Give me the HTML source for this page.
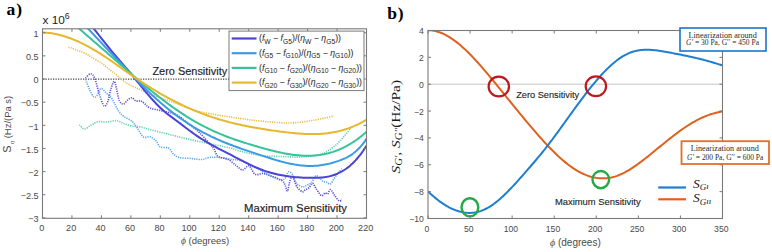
<!DOCTYPE html>
<html><head><meta charset="utf-8"><style>
html,body{margin:0;padding:0;background:#fff;}
body{width:772px;height:252px;overflow:hidden;font-family:"Liberation Sans",sans-serif;}
svg{display:block;}
</style></head><body>
<svg width="772" height="252" viewBox="0 0 772 252">
<rect width="772" height="252" fill="#fff"/>
<defs><clipPath id="cl"><rect x="42.5" y="28.8" width="324.0" height="189.5"/></clipPath><clipPath id="cr"><rect x="428" y="30.5" width="294.5" height="188"/></clipPath></defs>
<line x1="43" y1="79" x2="229" y2="79" stroke="#4a4a4a" stroke-width="1.25" stroke-dasharray="1.25 1.25"/>
<path d="M79.30,124.80 C80.15,125.50 82.52,128.88 84.40,129.00 C86.28,129.12 88.37,126.70 90.60,125.50 C92.83,124.30 95.07,122.38 97.80,121.80 C100.53,121.22 103.90,122.18 107.00,122.00 C110.10,121.82 113.63,120.47 116.40,120.70 C119.17,120.93 121.02,122.52 123.60,123.40 C126.18,124.28 128.98,125.40 131.90,126.00 C134.82,126.60 138.08,126.40 141.10,127.00 C144.12,127.60 146.45,128.65 150.00,129.60 C153.55,130.55 158.28,131.67 162.40,132.70 C166.52,133.73 170.58,134.77 174.70,135.80 C178.82,136.83 182.63,137.87 187.10,138.90 C191.57,139.93 196.68,140.98 201.50,142.00 C206.32,143.02 211.25,144.00 216.00,145.00 C220.75,146.00 225.90,146.95 230.00,148.00 C234.10,149.05 235.40,150.05 240.60,151.30 C245.80,152.55 254.32,154.63 261.20,155.50 C268.08,156.37 275.43,156.25 281.90,156.50 C288.37,156.75 293.65,157.32 300.00,157.00 C306.35,156.68 314.67,156.10 320.00,154.60 C325.33,153.10 328.67,150.27 332.00,148.00 C335.33,145.73 336.87,144.33 340.00,141.00 C343.13,137.67 349.00,130.17 350.80,128.00" fill="none" stroke="#62d2ad" stroke-width="1.6" stroke-dasharray="1.2 1.1" clip-path="url(#cl)"/>
<path d="M85.50,79.30 C86.18,81.02 88.23,86.68 89.60,89.60 C90.97,92.52 92.50,95.77 93.70,96.80 C94.90,97.83 95.60,97.17 96.80,95.80 C98.00,94.43 99.37,89.12 100.90,88.60 C102.43,88.08 104.28,91.17 106.00,92.70 C107.72,94.23 109.82,96.08 111.20,97.80 C112.58,99.52 113.08,100.80 114.30,103.00 C115.52,105.20 116.95,108.78 118.50,111.00 C120.05,113.22 121.37,114.58 123.60,116.30 C125.83,118.02 129.67,119.43 131.90,121.30 C134.13,123.17 135.12,124.92 137.00,127.50 C138.88,130.08 141.03,135.25 143.20,136.80 C145.37,138.35 147.83,136.10 150.00,136.80 C152.17,137.50 154.48,139.30 156.20,141.00 C157.92,142.70 158.23,145.83 160.30,147.00 C162.37,148.17 166.53,146.95 168.60,148.00 C170.67,149.05 170.98,151.73 172.70,153.30 C174.42,154.87 175.82,156.53 178.90,157.40 C181.98,158.27 187.43,158.15 191.20,158.50 C194.97,158.85 198.40,159.68 201.50,159.50 C204.60,159.32 206.72,157.73 209.80,157.40 C212.88,157.07 216.23,157.13 220.00,157.50 C223.77,157.87 228.97,159.08 232.40,159.60 C235.83,160.12 237.17,159.40 240.60,160.60 C244.03,161.80 250.07,165.45 253.00,166.80 C255.93,168.15 256.28,167.72 258.20,168.70 C260.12,169.68 262.12,171.37 264.50,172.70 C266.88,174.03 269.85,175.52 272.50,176.70 C275.15,177.88 278.28,179.53 280.40,179.80 C282.52,180.07 283.88,179.62 285.20,178.30 C286.52,176.98 287.12,172.57 288.30,171.90 C289.48,171.23 291.23,172.85 292.30,174.30 C293.37,175.75 293.77,178.88 294.70,180.60 C295.63,182.32 296.58,183.53 297.90,184.60 C299.22,185.67 301.35,186.78 302.60,187.00 C303.85,187.22 304.05,186.53 305.40,185.90 C306.75,185.27 309.37,184.25 310.70,183.20 C312.03,182.15 312.52,180.85 313.40,179.60 C314.28,178.35 314.97,175.98 316.00,175.70 C317.03,175.42 318.40,176.95 319.60,177.90 C320.80,178.85 322.00,180.67 323.20,181.40 C324.40,182.13 325.60,181.85 326.80,182.30 C328.00,182.75 329.20,184.69 330.40,184.10 C331.60,183.51 332.67,180.68 334.00,178.75 C335.33,176.82 337.07,174.14 338.40,172.50 C339.73,170.86 341.40,169.50 342.00,168.90" fill="none" stroke="#58a8ea" stroke-width="1.6" stroke-dasharray="1.2 1.1" clip-path="url(#cl)"/>
<path d="M85.50,78.00 C86.35,77.28 89.07,73.67 90.60,73.70 C92.13,73.73 93.32,75.03 94.70,78.20 C96.08,81.37 97.35,88.07 98.90,92.70 C100.45,97.33 102.48,104.62 104.00,106.00 C105.52,107.38 106.83,103.92 108.00,101.00 C109.17,98.08 109.95,91.78 111.00,88.50 C112.05,85.22 113.40,81.30 114.30,81.30 C115.20,81.30 115.53,85.22 116.40,88.50 C117.27,91.78 118.30,98.42 119.50,101.00 C120.70,103.58 122.23,104.17 123.60,104.00 C124.97,103.83 126.32,101.03 127.70,100.00 C129.08,98.97 130.52,97.63 131.90,97.80 C133.28,97.97 134.48,100.47 136.00,101.00 C137.52,101.53 139.50,100.50 141.00,101.00 C142.50,101.50 143.50,102.83 145.00,104.00 C146.50,105.17 147.10,106.83 150.00,108.00 C152.90,109.17 157.93,109.83 162.40,111.00 C166.87,112.17 172.33,112.77 176.80,115.00 C181.27,117.23 185.42,121.45 189.20,124.40 C192.98,127.35 196.07,129.43 199.50,132.70 C202.93,135.97 207.38,141.28 209.80,144.00 C212.22,146.72 212.63,146.93 214.00,149.00 C215.37,151.07 215.63,154.63 218.00,156.40 C220.37,158.17 225.12,158.03 228.20,159.60 C231.28,161.17 234.08,164.08 236.50,165.80 C238.92,167.52 240.63,169.90 242.70,169.90 C244.77,169.90 246.85,165.07 248.90,165.80 C250.95,166.53 252.65,173.02 255.00,174.30 C257.35,175.58 260.35,173.23 263.00,173.50 C265.65,173.77 267.73,174.72 270.90,175.90 C274.07,177.08 279.62,179.02 282.00,180.60 C284.38,182.18 284.28,183.67 285.20,185.40 C286.12,187.13 286.70,191.80 287.50,191.00 C288.30,190.20 289.08,182.85 290.00,180.60 C290.92,178.35 291.83,176.43 293.00,177.50 C294.17,178.57 295.40,184.63 297.00,187.00 C298.60,189.37 301.27,191.20 302.60,191.70 C303.93,192.20 303.93,190.67 305.00,190.00 C306.07,189.33 307.75,188.83 309.00,187.70 C310.25,186.57 311.33,183.05 312.50,183.20 C313.67,183.35 314.52,186.52 316.00,188.60 C317.48,190.68 319.90,194.97 321.40,195.70 C322.90,196.43 323.95,193.28 325.00,193.00 C326.05,192.72 326.80,194.58 327.70,194.00 C328.60,193.42 329.22,189.22 330.40,189.50 C331.58,189.78 333.32,193.78 334.80,195.70 C336.28,197.62 338.10,200.40 339.30,201.00 C340.50,201.60 341.55,199.58 342.00,199.30" fill="none" stroke="#5a50dc" stroke-width="1.6" stroke-dasharray="1.2 1.1" clip-path="url(#cl)"/>
<path d="M68.40,46.90 C70.12,47.55 75.78,49.65 78.70,50.80 C81.62,51.95 83.77,52.73 85.90,53.80 C88.03,54.87 88.87,55.62 91.50,57.20 C94.13,58.78 98.58,61.17 101.70,63.30 C104.82,65.43 107.60,67.97 110.20,70.00 C112.80,72.03 115.07,73.67 117.30,75.50 C119.53,77.33 121.48,79.42 123.60,81.00 C125.72,82.58 127.27,83.58 130.00,85.00 C132.73,86.42 136.67,88.00 140.00,89.50 C143.33,91.00 144.17,91.75 150.00,94.00 C155.83,96.25 166.67,100.05 175.00,103.00 C183.33,105.95 189.17,109.13 200.00,111.70 C210.83,114.27 230.00,116.85 240.00,118.40 C250.00,119.95 251.67,120.23 260.00,121.00 C268.33,121.77 280.83,123.17 290.00,123.00 C299.17,122.83 307.67,121.17 315.00,120.00 C322.33,118.83 330.83,116.67 334.00,116.00" fill="none" stroke="#e8be48" stroke-width="1.6" stroke-dasharray="1.2 1.1" clip-path="url(#cl)"/>
<path d="M78.00,10.49 L79.50,12.04 L81.00,13.64 L82.50,15.28 L84.00,16.96 L85.50,18.67 L87.00,20.42 L88.50,22.21 L90.00,24.01 L91.50,25.85 L93.00,27.70 L94.50,29.57 L96.00,31.45 L97.50,33.35 L99.00,35.25 L100.50,37.15 L102.00,39.06 L103.50,40.96 L105.00,42.85 L106.50,44.74 L108.00,46.61 L109.50,48.46 L111.00,50.30 L112.50,52.11 L114.00,53.90 L115.50,55.67 L117.00,57.42 L118.50,59.15 L120.00,60.88 L121.50,62.61 L123.00,64.33 L124.50,66.06 L126.00,67.80 L127.50,69.55 L129.00,71.32 L130.50,73.12 L132.00,74.94 L133.50,76.78 L135.00,78.64 L136.50,80.50 L138.00,82.37 L139.50,84.23 L141.00,86.09 L142.50,87.93 L144.00,89.76 L145.50,91.57 L147.00,93.36 L148.50,95.13 L150.00,96.87 L151.50,98.57 L153.00,100.24 L154.50,101.88 L156.00,103.47 L157.50,105.01 L159.00,106.51 L160.50,107.95 L162.00,109.34 L163.50,110.68 L165.00,111.95 L166.50,113.18 L168.00,114.37 L169.50,115.53 L171.00,116.67 L172.50,117.79 L174.00,118.91 L175.50,120.02 L177.00,121.14 L178.50,122.27 L180.00,123.40 L181.50,124.54 L183.00,125.67 L184.50,126.81 L186.00,127.94 L187.50,129.06 L189.00,130.18 L190.50,131.28 L192.00,132.38 L193.50,133.46 L195.00,134.52 L196.50,135.57 L198.00,136.59 L199.50,137.59 L201.00,138.57 L202.50,139.52 L204.00,140.44 L205.50,141.35 L207.00,142.24 L208.50,143.10 L210.00,143.96 L211.50,144.79 L213.00,145.61 L214.50,146.42 L216.00,147.22 L217.50,148.01 L219.00,148.79 L220.50,149.57 L222.00,150.34 L223.50,151.10 L225.00,151.87 L226.50,152.64 L228.00,153.41 L229.50,154.18 L231.00,154.95 L232.50,155.73 L234.00,156.52 L235.50,157.30 L237.00,158.09 L238.50,158.87 L240.00,159.65 L241.50,160.43 L243.00,161.20 L244.50,161.96 L246.00,162.72 L247.50,163.46 L249.00,164.19 L250.50,164.91 L252.00,165.62 L253.50,166.31 L255.00,166.98 L256.50,167.63 L258.00,168.27 L259.50,168.88 L261.00,169.47 L262.50,170.03 L264.00,170.57 L265.50,171.09 L267.00,171.58 L268.50,172.05 L270.00,172.50 L271.50,172.92 L273.00,173.33 L274.50,173.71 L276.00,174.07 L277.50,174.41 L279.00,174.74 L280.50,175.04 L282.00,175.32 L283.50,175.59 L285.00,175.84 L286.50,176.07 L288.00,176.29 L289.50,176.49 L291.00,176.67 L292.50,176.84 L294.00,176.99 L295.50,177.13 L297.00,177.26 L298.50,177.37 L300.00,177.47 L301.50,177.56 L303.00,177.63 L304.50,177.70 L306.00,177.75 L307.50,177.79 L309.00,177.82 L310.50,177.85 L312.00,177.86 L313.50,177.86 L315.00,177.84 L316.50,177.81 L318.00,177.75 L319.50,177.66 L321.00,177.55 L322.50,177.41 L324.00,177.23 L325.50,177.02 L327.00,176.77 L328.50,176.47 L330.00,176.13 L331.50,175.74 L333.00,175.30 L334.50,174.80 L336.00,174.25 L337.50,173.63 L339.00,172.95 L340.50,172.21 L342.00,171.39 L343.50,170.50 L345.00,169.54 L346.50,168.49 L348.00,167.37 L349.50,166.16 L351.00,164.86 L352.50,163.48 L354.00,162.00 L355.50,160.42 L357.00,158.74 L358.50,156.96 L360.00,155.08 L361.50,153.09 L363.00,150.98 L364.50,148.76 L366.00,146.43 L366.50,145.62" fill="none" stroke="#4b42d6" stroke-width="2.0" clip-path="url(#cl)"/>
<path d="M70.00,10.47 L71.50,11.88 L73.00,13.31 L74.50,14.76 L76.00,16.24 L77.50,17.73 L79.00,19.24 L80.50,20.76 L82.00,22.30 L83.50,23.85 L85.00,25.41 L86.50,26.99 L88.00,28.57 L89.50,30.16 L91.00,31.76 L92.50,33.36 L94.00,34.97 L95.50,36.58 L97.00,38.19 L98.50,39.80 L100.00,41.41 L101.50,43.02 L103.00,44.63 L104.50,46.23 L106.00,47.82 L107.50,49.41 L109.00,50.99 L110.50,52.56 L112.00,54.12 L113.50,55.67 L115.00,57.22 L116.50,58.76 L118.00,60.30 L119.50,61.84 L121.00,63.37 L122.50,64.91 L124.00,66.45 L125.50,67.99 L127.00,69.54 L128.50,71.10 L130.00,72.67 L131.50,74.24 L133.00,75.83 L134.50,77.42 L136.00,79.00 L137.50,80.58 L139.00,82.15 L140.50,83.70 L142.00,85.23 L143.50,86.74 L145.00,88.24 L146.50,89.71 L148.00,91.17 L149.50,92.61 L151.00,94.03 L152.50,95.44 L154.00,96.82 L155.50,98.19 L157.00,99.54 L158.50,100.87 L160.00,102.18 L161.50,103.48 L163.00,104.75 L164.50,106.01 L166.00,107.25 L167.50,108.48 L169.00,109.68 L170.50,110.87 L172.00,112.04 L173.50,113.20 L175.00,114.33 L176.50,115.45 L178.00,116.55 L179.50,117.63 L181.00,118.69 L182.50,119.74 L184.00,120.77 L185.50,121.78 L187.00,122.78 L188.50,123.75 L190.00,124.71 L191.50,125.66 L193.00,126.58 L194.50,127.49 L196.00,128.38 L197.50,129.25 L199.00,130.11 L200.50,130.95 L202.00,131.77 L203.50,132.57 L205.00,133.36 L206.50,134.14 L208.00,134.89 L209.50,135.64 L211.00,136.37 L212.50,137.08 L214.00,137.78 L215.50,138.47 L217.00,139.14 L218.50,139.81 L220.00,140.46 L221.50,141.10 L223.00,141.73 L224.50,142.34 L226.00,142.95 L227.50,143.55 L229.00,144.14 L230.50,144.72 L232.00,145.29 L233.50,145.86 L235.00,146.41 L236.50,146.96 L238.00,147.50 L239.50,148.04 L241.00,148.57 L242.50,149.09 L244.00,149.61 L245.50,150.13 L247.00,150.64 L248.50,151.15 L250.00,151.65 L251.50,152.15 L253.00,152.65 L254.50,153.15 L256.00,153.64 L257.50,154.14 L259.00,154.63 L260.50,155.12 L262.00,155.62 L263.50,156.11 L265.00,156.60 L266.50,157.08 L268.00,157.57 L269.50,158.05 L271.00,158.52 L272.50,158.98 L274.00,159.44 L275.50,159.89 L277.00,160.34 L278.50,160.77 L280.00,161.19 L281.50,161.60 L283.00,161.99 L284.50,162.38 L286.00,162.74 L287.50,163.10 L289.00,163.44 L290.50,163.76 L292.00,164.06 L293.50,164.34 L295.00,164.61 L296.50,164.85 L298.00,165.07 L299.50,165.27 L301.00,165.45 L302.50,165.60 L304.00,165.73 L305.50,165.83 L307.00,165.90 L308.50,165.95 L310.00,165.97 L311.50,165.96 L313.00,165.92 L314.50,165.85 L316.00,165.75 L317.50,165.63 L319.00,165.47 L320.50,165.29 L322.00,165.08 L323.50,164.84 L325.00,164.57 L326.50,164.27 L328.00,163.95 L329.50,163.60 L331.00,163.22 L332.50,162.81 L334.00,162.37 L335.50,161.91 L337.00,161.42 L338.50,160.91 L340.00,160.36 L341.50,159.79 L343.00,159.19 L344.50,158.54 L346.00,157.83 L347.50,157.07 L349.00,156.24 L350.50,155.33 L352.00,154.34 L353.50,153.25 L355.00,152.07 L356.50,150.77 L358.00,149.35 L359.50,147.80 L361.00,146.12 L362.50,144.30 L364.00,142.32 L365.50,140.18 L366.50,138.66" fill="none" stroke="#3a9be6" stroke-width="2.0" clip-path="url(#cl)"/>
<path d="M60.00,11.08 L61.50,12.50 L63.00,13.91 L64.50,15.31 L66.00,16.70 L67.50,18.08 L69.00,19.46 L70.50,20.83 L72.00,22.18 L73.50,23.54 L75.00,24.88 L76.50,26.22 L78.00,27.55 L79.50,28.88 L81.00,30.20 L82.50,31.52 L84.00,32.83 L85.50,34.14 L87.00,35.45 L88.50,36.76 L90.00,38.06 L91.50,39.36 L93.00,40.66 L94.50,41.95 L96.00,43.25 L97.50,44.55 L99.00,45.85 L100.50,47.14 L102.00,48.44 L103.50,49.74 L105.00,51.05 L106.50,52.35 L108.00,53.66 L109.50,54.97 L111.00,56.28 L112.50,57.60 L114.00,58.91 L115.50,60.23 L117.00,61.54 L118.50,62.86 L120.00,64.18 L121.50,65.49 L123.00,66.81 L124.50,68.12 L126.00,69.43 L127.50,70.74 L129.00,72.04 L130.50,73.34 L132.00,74.64 L133.50,75.93 L135.00,77.22 L136.50,78.50 L138.00,79.78 L139.50,81.05 L141.00,82.32 L142.50,83.58 L144.00,84.83 L145.50,86.08 L147.00,87.31 L148.50,88.54 L150.00,89.77 L151.50,90.98 L153.00,92.19 L154.50,93.38 L156.00,94.57 L157.50,95.75 L159.00,96.92 L160.50,98.08 L162.00,99.23 L163.50,100.37 L165.00,101.50 L166.50,102.62 L168.00,103.73 L169.50,104.82 L171.00,105.91 L172.50,106.98 L174.00,108.05 L175.50,109.10 L177.00,110.14 L178.50,111.16 L180.00,112.18 L181.50,113.18 L183.00,114.16 L184.50,115.14 L186.00,116.10 L187.50,117.04 L189.00,117.97 L190.50,118.89 L192.00,119.79 L193.50,120.68 L195.00,121.55 L196.50,122.41 L198.00,123.25 L199.50,124.07 L201.00,124.88 L202.50,125.68 L204.00,126.45 L205.50,127.21 L207.00,127.96 L208.50,128.69 L210.00,129.41 L211.50,130.11 L213.00,130.80 L214.50,131.48 L216.00,132.14 L217.50,132.79 L219.00,133.43 L220.50,134.06 L222.00,134.67 L223.50,135.28 L225.00,135.87 L226.50,136.45 L228.00,137.02 L229.50,137.58 L231.00,138.13 L232.50,138.67 L234.00,139.21 L235.50,139.73 L237.00,140.24 L238.50,140.75 L240.00,141.25 L241.50,141.74 L243.00,142.23 L244.50,142.70 L246.00,143.17 L247.50,143.64 L249.00,144.10 L250.50,144.55 L252.00,145.00 L253.50,145.44 L255.00,145.88 L256.50,146.32 L258.00,146.75 L259.50,147.18 L261.00,147.60 L262.50,148.02 L264.00,148.44 L265.50,148.85 L267.00,149.26 L268.50,149.66 L270.00,150.05 L271.50,150.44 L273.00,150.81 L274.50,151.18 L276.00,151.54 L277.50,151.89 L279.00,152.23 L280.50,152.56 L282.00,152.87 L283.50,153.18 L285.00,153.47 L286.50,153.74 L288.00,154.00 L289.50,154.25 L291.00,154.48 L292.50,154.69 L294.00,154.89 L295.50,155.06 L297.00,155.22 L298.50,155.36 L300.00,155.48 L301.50,155.58 L303.00,155.66 L304.50,155.72 L306.00,155.75 L307.50,155.76 L309.00,155.75 L310.50,155.71 L312.00,155.65 L313.50,155.56 L315.00,155.45 L316.50,155.31 L318.00,155.14 L319.50,154.95 L321.00,154.72 L322.50,154.47 L324.00,154.19 L325.50,153.87 L327.00,153.53 L328.50,153.16 L330.00,152.75 L331.50,152.32 L333.00,151.85 L334.50,151.34 L336.00,150.81 L337.50,150.24 L339.00,149.63 L340.50,148.99 L342.00,148.31 L343.50,147.60 L345.00,146.85 L346.50,146.06 L348.00,145.23 L349.50,144.37 L351.00,143.47 L352.50,142.52 L354.00,141.54 L355.50,140.52 L357.00,139.45 L358.50,138.34 L360.00,137.19 L361.50,136.00 L363.00,134.77 L364.50,133.49 L366.00,132.16 L366.50,131.71" fill="none" stroke="#35c49a" stroke-width="2.0" clip-path="url(#cl)"/>
<path d="M42.50,32.50 L44.00,32.55 L45.50,32.64 L47.00,32.75 L48.50,32.90 L50.00,33.08 L51.50,33.29 L53.00,33.53 L54.50,33.80 L56.00,34.10 L57.50,34.42 L59.00,34.78 L60.50,35.16 L62.00,35.57 L63.50,36.00 L65.00,36.46 L66.50,36.95 L68.00,37.46 L69.50,38.00 L71.00,38.56 L72.50,39.14 L74.00,39.75 L75.50,40.38 L77.00,41.03 L78.50,41.70 L80.00,42.40 L81.50,43.11 L83.00,43.85 L84.50,44.61 L86.00,45.38 L87.50,46.18 L89.00,46.99 L90.50,47.82 L92.00,48.67 L93.50,49.54 L95.00,50.42 L96.50,51.32 L98.00,52.23 L99.50,53.16 L101.00,54.11 L102.50,55.07 L104.00,56.04 L105.50,57.03 L107.00,58.03 L108.50,59.04 L110.00,60.07 L111.50,61.10 L113.00,62.14 L114.50,63.20 L116.00,64.25 L117.50,65.31 L119.00,66.38 L120.50,67.45 L122.00,68.52 L123.50,69.58 L125.00,70.65 L126.50,71.71 L128.00,72.77 L129.50,73.82 L131.00,74.86 L132.50,75.90 L134.00,76.92 L135.50,77.94 L137.00,78.95 L138.50,79.95 L140.00,80.94 L141.50,81.93 L143.00,82.90 L144.50,83.87 L146.00,84.83 L147.50,85.78 L149.00,86.72 L150.50,87.65 L152.00,88.57 L153.50,89.48 L155.00,90.38 L156.50,91.28 L158.00,92.16 L159.50,93.04 L161.00,93.90 L162.50,94.76 L164.00,95.60 L165.50,96.44 L167.00,97.26 L168.50,98.08 L170.00,98.88 L171.50,99.68 L173.00,100.47 L174.50,101.24 L176.00,102.01 L177.50,102.76 L179.00,103.50 L180.50,104.24 L182.00,104.96 L183.50,105.67 L185.00,106.37 L186.50,107.06 L188.00,107.74 L189.50,108.41 L191.00,109.07 L192.50,109.72 L194.00,110.35 L195.50,110.98 L197.00,111.59 L198.50,112.19 L200.00,112.78 L201.50,113.36 L203.00,113.92 L204.50,114.48 L206.00,115.02 L207.50,115.55 L209.00,116.08 L210.50,116.59 L212.00,117.09 L213.50,117.58 L215.00,118.06 L216.50,118.53 L218.00,118.99 L219.50,119.44 L221.00,119.89 L222.50,120.32 L224.00,120.74 L225.50,121.16 L227.00,121.56 L228.50,121.96 L230.00,122.35 L231.50,122.73 L233.00,123.10 L234.50,123.46 L236.00,123.82 L237.50,124.17 L239.00,124.51 L240.50,124.84 L242.00,125.17 L243.50,125.48 L245.00,125.80 L246.50,126.10 L248.00,126.40 L249.50,126.69 L251.00,126.98 L252.50,127.26 L254.00,127.53 L255.50,127.80 L257.00,128.06 L258.50,128.32 L260.00,128.57 L261.50,128.82 L263.00,129.06 L264.50,129.30 L266.00,129.53 L267.50,129.76 L269.00,129.98 L270.50,130.20 L272.00,130.42 L273.50,130.63 L275.00,130.84 L276.50,131.05 L278.00,131.25 L279.50,131.45 L281.00,131.64 L282.50,131.83 L284.00,132.02 L285.50,132.20 L287.00,132.38 L288.50,132.56 L290.00,132.72 L291.50,132.88 L293.00,133.04 L294.50,133.18 L296.00,133.32 L297.50,133.44 L299.00,133.56 L300.50,133.67 L302.00,133.77 L303.50,133.85 L305.00,133.92 L306.50,133.99 L308.00,134.03 L309.50,134.07 L311.00,134.09 L312.50,134.09 L314.00,134.08 L315.50,134.06 L317.00,134.02 L318.50,133.96 L320.00,133.88 L321.50,133.79 L323.00,133.67 L324.50,133.54 L326.00,133.39 L327.50,133.21 L329.00,133.02 L330.50,132.80 L332.00,132.56 L333.50,132.30 L335.00,132.02 L336.50,131.71 L338.00,131.38 L339.50,131.02 L341.00,130.64 L342.50,130.23 L344.00,129.79 L345.50,129.33 L347.00,128.84 L348.50,128.32 L350.00,127.77 L351.50,127.19 L353.00,126.58 L354.50,125.94 L356.00,125.27 L357.50,124.57 L359.00,123.84 L360.50,123.07 L362.00,122.27 L363.50,121.43 L365.00,120.56 L366.50,119.65" fill="none" stroke="#e6b82e" stroke-width="2.0" clip-path="url(#cl)"/>
<rect x="42.5" y="28.8" width="324.0" height="189.5" fill="none" stroke="#7a7a7a" stroke-width="1.1"/>
<path d="M42.50,218.3v-3M42.50,28.8v3M71.95,218.3v-3M71.95,28.8v3M101.41,218.3v-3M101.41,28.8v3M130.86,218.3v-3M130.86,28.8v3M160.32,218.3v-3M160.32,28.8v3M189.77,218.3v-3M189.77,28.8v3M219.22,218.3v-3M219.22,28.8v3M248.68,218.3v-3M248.68,28.8v3M278.13,218.3v-3M278.13,28.8v3M307.59,218.3v-3M307.59,28.8v3M337.04,218.3v-3M337.04,28.8v3M366.49,218.3v-3M366.49,28.8v3M42.5,217.90h3M366.5,217.90h-3M42.5,194.75h3M366.5,194.75h-3M42.5,171.60h3M366.5,171.60h-3M42.5,148.45h3M366.5,148.45h-3M42.5,125.30h3M366.5,125.30h-3M42.5,102.15h3M366.5,102.15h-3M42.5,79.00h3M366.5,79.00h-3M42.5,55.85h3M366.5,55.85h-3M42.5,32.70h3M366.5,32.70h-3" stroke="#7a7a7a" stroke-width="1" fill="none"/>
<g font-family="Liberation Sans" font-size="9.1" fill="#4a4a4a"><text x="41.70" y="231.3" text-anchor="middle">0</text><text x="71.15" y="231.3" text-anchor="middle">20</text><text x="100.61" y="231.3" text-anchor="middle">40</text><text x="130.06" y="231.3" text-anchor="middle">60</text><text x="159.52" y="231.3" text-anchor="middle">80</text><text x="188.97" y="231.3" text-anchor="middle">100</text><text x="218.42" y="231.3" text-anchor="middle">120</text><text x="247.88" y="231.3" text-anchor="middle">140</text><text x="277.33" y="231.3" text-anchor="middle">160</text><text x="306.79" y="231.3" text-anchor="middle">180</text><text x="336.24" y="231.3" text-anchor="middle">200</text><text x="365.69" y="231.3" text-anchor="middle">220</text><text x="38.6" y="222.10" text-anchor="end">−3</text><text x="38.6" y="198.95" text-anchor="end">−2.5</text><text x="38.6" y="175.80" text-anchor="end">−2</text><text x="38.6" y="152.65" text-anchor="end">−1.5</text><text x="38.6" y="129.50" text-anchor="end">−1</text><text x="38.6" y="106.35" text-anchor="end">−0.5</text><text x="38.6" y="83.20" text-anchor="end">0</text><text x="38.6" y="60.05" text-anchor="end">0.5</text><text x="38.6" y="36.90" text-anchor="end">1</text></g>
<text x="42.5" y="24" font-family="Liberation Sans" font-size="11" fill="#222" textLength="27.2" lengthAdjust="spacingAndGlyphs">x 10<tspan font-size="8.2" dy="-4.8">6</tspan></text>
<text x="6.6" y="14.6" font-family="Liberation Serif" font-weight="bold" font-size="17.5" fill="#000" textLength="15.6" lengthAdjust="spacing">a)</text>
<text transform="translate(10.9,152.8) rotate(-90)" font-family="Liberation Sans" font-size="9.4" fill="#4a4a4a" textLength="57" lengthAdjust="spacingAndGlyphs"><tspan font-size="10.8">S</tspan><tspan font-size="5.5" dy="3.2" font-style="italic"> η</tspan><tspan dy="-3.2"> (Hz/(Pa s)</tspan></text>
<text x="181" y="243.5" font-family="Liberation Sans" font-size="9.5" fill="#4a4a4a"><tspan font-family="Liberation Serif" font-style="italic">ϕ</tspan> (degrees)</text>
<text x="152.4" y="74.6" font-family="Liberation Sans" font-size="10.6" stroke="#222" stroke-width="0.15" fill="#222" textLength="74.8" lengthAdjust="spacingAndGlyphs">Zero Sensitivity</text>
<text x="244" y="212" font-family="Liberation Sans" font-size="10.6" stroke="#222" stroke-width="0.15" fill="#222" textLength="103" lengthAdjust="spacingAndGlyphs">Maximum Sensitivity</text>
<rect x="229" y="31.1" width="135" height="59.5" fill="#fff" stroke="#7a7a7a" stroke-width="1"/>
<line x1="231.7" y1="38.5" x2="256.5" y2="38.5" stroke="#4b42d6" stroke-width="2.2"/>
<text x="259" y="41.1" font-family="Liberation Sans" font-size="8.6" fill="#222" textLength="82.0" lengthAdjust="spacingAndGlyphs">(<tspan font-style="italic">f</tspan><tspan font-size="6.6" dy="2.6">W</tspan><tspan dy="-2.6"> − </tspan><tspan font-style="italic">f</tspan><tspan font-size="6.6" dy="2.6">G5</tspan><tspan dy="-2.6">)/(</tspan><tspan font-style="italic">η</tspan><tspan font-size="6.6" dy="2.6">W</tspan><tspan dy="-2.6"> − </tspan><tspan font-style="italic">η</tspan><tspan font-size="6.6" dy="2.6">G5</tspan><tspan dy="-2.6">))</tspan></text>
<line x1="231.7" y1="53.2" x2="256.5" y2="53.2" stroke="#3a9be6" stroke-width="2.2"/>
<text x="259" y="55.8" font-family="Liberation Sans" font-size="8.6" fill="#222" textLength="94.5" lengthAdjust="spacingAndGlyphs">(<tspan font-style="italic">f</tspan><tspan font-size="6.6" dy="2.6">G5</tspan><tspan dy="-2.6"> − </tspan><tspan font-style="italic">f</tspan><tspan font-size="6.6" dy="2.6">G10</tspan><tspan dy="-2.6">)/(</tspan><tspan font-style="italic">η</tspan><tspan font-size="6.6" dy="2.6">G5</tspan><tspan dy="-2.6"> − </tspan><tspan font-style="italic">η</tspan><tspan font-size="6.6" dy="2.6">G10</tspan><tspan dy="-2.6">))</tspan></text>
<line x1="231.7" y1="67.9" x2="256.5" y2="67.9" stroke="#35c49a" stroke-width="2.2"/>
<text x="259" y="70.5" font-family="Liberation Sans" font-size="8.6" fill="#222" textLength="103.0" lengthAdjust="spacingAndGlyphs">(<tspan font-style="italic">f</tspan><tspan font-size="6.6" dy="2.6">G10</tspan><tspan dy="-2.6"> − </tspan><tspan font-style="italic">f</tspan><tspan font-size="6.6" dy="2.6">G20</tspan><tspan dy="-2.6">)/(</tspan><tspan font-style="italic">η</tspan><tspan font-size="6.6" dy="2.6">G10</tspan><tspan dy="-2.6"> − </tspan><tspan font-style="italic">η</tspan><tspan font-size="6.6" dy="2.6">G20</tspan><tspan dy="-2.6">))</tspan></text>
<line x1="231.7" y1="82.6" x2="256.5" y2="82.6" stroke="#e6b82e" stroke-width="2.2"/>
<text x="259" y="85.2" font-family="Liberation Sans" font-size="8.6" fill="#222" textLength="103.0" lengthAdjust="spacingAndGlyphs">(<tspan font-style="italic">f</tspan><tspan font-size="6.6" dy="2.6">G20</tspan><tspan dy="-2.6"> − </tspan><tspan font-style="italic">f</tspan><tspan font-size="6.6" dy="2.6">G30</tspan><tspan dy="-2.6">)/(</tspan><tspan font-style="italic">η</tspan><tspan font-size="6.6" dy="2.6">G20</tspan><tspan dy="-2.6"> − </tspan><tspan font-style="italic">η</tspan><tspan font-size="6.6" dy="2.6">G30</tspan><tspan dy="-2.6">))</tspan></text>
<line x1="428" y1="84.2" x2="722.5" y2="84.2" stroke="#c4c4c4" stroke-width="1"/>
<path d="M428.00,30.14 L429.50,30.18 L431.00,30.29 L432.50,30.48 L434.00,30.74 L435.50,31.06 L437.00,31.46 L438.50,31.92 L440.00,32.45 L441.50,33.04 L443.00,33.69 L444.50,34.41 L446.00,35.18 L447.50,36.01 L449.00,36.90 L450.50,37.84 L452.00,38.83 L453.50,39.87 L455.00,40.97 L456.50,42.11 L458.00,43.30 L459.50,44.53 L461.00,45.81 L462.50,47.13 L464.00,48.48 L465.50,49.88 L467.00,51.31 L468.50,52.78 L470.00,54.28 L471.50,55.82 L473.00,57.38 L474.50,58.98 L476.00,60.60 L477.50,62.25 L479.00,63.92 L480.50,65.62 L482.00,67.33 L483.50,69.07 L485.00,70.82 L486.50,72.59 L488.00,74.38 L489.50,76.18 L491.00,77.99 L492.50,79.81 L494.00,81.64 L495.50,83.48 L497.00,85.32 L498.50,87.17 L500.00,89.02 L501.50,90.87 L503.00,92.72 L504.50,94.58 L506.00,96.43 L507.50,98.29 L509.00,100.14 L510.50,102.00 L512.00,103.85 L513.50,105.70 L515.00,107.54 L516.50,109.38 L518.00,111.22 L519.50,113.05 L521.00,114.87 L522.50,116.69 L524.00,118.50 L525.50,120.31 L527.00,122.10 L528.50,123.89 L530.00,125.66 L531.50,127.43 L533.00,129.18 L534.50,130.93 L536.00,132.66 L537.50,134.37 L539.00,136.08 L540.50,137.76 L542.00,139.44 L543.50,141.09 L545.00,142.72 L546.50,144.34 L548.00,145.93 L549.50,147.50 L551.00,149.05 L552.50,150.57 L554.00,152.06 L555.50,153.53 L557.00,154.96 L558.50,156.36 L560.00,157.74 L561.50,159.07 L563.00,160.38 L564.50,161.64 L566.00,162.87 L567.50,164.06 L569.00,165.21 L570.50,166.32 L572.00,167.38 L573.50,168.40 L575.00,169.37 L576.50,170.30 L578.00,171.18 L579.50,172.01 L581.00,172.79 L582.50,173.52 L584.00,174.20 L585.50,174.83 L587.00,175.41 L588.50,175.94 L590.00,176.42 L591.50,176.84 L593.00,177.22 L594.50,177.54 L596.00,177.81 L597.50,178.03 L599.00,178.19 L600.50,178.30 L602.00,178.35 L603.50,178.35 L605.00,178.30 L606.50,178.19 L608.00,178.02 L609.50,177.80 L611.00,177.53 L612.50,177.19 L614.00,176.80 L615.50,176.35 L617.00,175.85 L618.50,175.29 L620.00,174.68 L621.50,174.01 L623.00,173.30 L624.50,172.55 L626.00,171.74 L627.50,170.90 L629.00,170.02 L630.50,169.10 L632.00,168.14 L633.50,167.15 L635.00,166.13 L636.50,165.09 L638.00,164.01 L639.50,162.91 L641.00,161.79 L642.50,160.65 L644.00,159.49 L645.50,158.31 L647.00,157.12 L648.50,155.92 L650.00,154.71 L651.50,153.50 L653.00,152.27 L654.50,151.05 L656.00,149.82 L657.50,148.59 L659.00,147.36 L660.50,146.13 L662.00,144.91 L663.50,143.69 L665.00,142.47 L666.50,141.26 L668.00,140.06 L669.50,138.87 L671.00,137.68 L672.50,136.51 L674.00,135.36 L675.50,134.21 L677.00,133.09 L678.50,131.98 L680.00,130.88 L681.50,129.81 L683.00,128.76 L684.50,127.73 L686.00,126.73 L687.50,125.75 L689.00,124.80 L690.50,123.87 L692.00,122.97 L693.50,122.10 L695.00,121.26 L696.50,120.45 L698.00,119.67 L699.50,118.92 L701.00,118.20 L702.50,117.51 L704.00,116.85 L705.50,116.23 L707.00,115.63 L708.50,115.07 L710.00,114.54 L711.50,114.05 L713.00,113.59 L714.50,113.16 L716.00,112.77 L717.50,112.41 L719.00,112.09 L720.50,111.80 L722.00,111.55 L722.40,111.49" fill="none" stroke="#e0611e" stroke-width="2.0" clip-path="url(#cr)"/>
<path d="M428.00,191.45 L429.50,192.87 L431.00,194.24 L432.50,195.57 L434.00,196.86 L435.50,198.11 L437.00,199.32 L438.50,200.48 L440.00,201.59 L441.50,202.66 L443.00,203.68 L444.50,204.65 L446.00,205.57 L447.50,206.45 L449.00,207.27 L450.50,208.04 L452.00,208.75 L453.50,209.42 L455.00,210.02 L456.50,210.57 L458.00,211.07 L459.50,211.51 L461.00,211.89 L462.50,212.21 L464.00,212.47 L465.50,212.67 L467.00,212.80 L468.50,212.88 L470.00,212.88 L471.50,212.83 L473.00,212.71 L474.50,212.52 L476.00,212.26 L477.50,211.94 L479.00,211.55 L480.50,211.08 L482.00,210.55 L483.50,209.94 L485.00,209.26 L486.50,208.51 L488.00,207.68 L489.50,206.79 L491.00,205.84 L492.50,204.82 L494.00,203.75 L495.50,202.62 L497.00,201.43 L498.50,200.19 L500.00,198.91 L501.50,197.58 L503.00,196.20 L504.50,194.78 L506.00,193.33 L507.50,191.84 L509.00,190.32 L510.50,188.76 L512.00,187.18 L513.50,185.58 L515.00,183.95 L516.50,182.30 L518.00,180.63 L519.50,178.95 L521.00,177.26 L522.50,175.56 L524.00,173.86 L525.50,172.14 L527.00,170.43 L528.50,168.71 L530.00,166.99 L531.50,165.25 L533.00,163.51 L534.50,161.75 L536.00,159.99 L537.50,158.20 L539.00,156.40 L540.50,154.59 L542.00,152.75 L543.50,150.89 L545.00,149.00 L546.50,147.10 L548.00,145.16 L549.50,143.20 L551.00,141.23 L552.50,139.23 L554.00,137.21 L555.50,135.18 L557.00,133.14 L558.50,131.08 L560.00,129.01 L561.50,126.94 L563.00,124.86 L564.50,122.77 L566.00,120.69 L567.50,118.60 L569.00,116.51 L570.50,114.43 L572.00,112.35 L573.50,110.27 L575.00,108.21 L576.50,106.15 L578.00,104.10 L579.50,102.07 L581.00,100.05 L582.50,98.05 L584.00,96.06 L585.50,94.10 L587.00,92.15 L588.50,90.23 L590.00,88.33 L591.50,86.46 L593.00,84.62 L594.50,82.80 L596.00,81.02 L597.50,79.27 L599.00,77.56 L600.50,75.88 L602.00,74.24 L603.50,72.64 L605.00,71.08 L606.50,69.56 L608.00,68.09 L609.50,66.66 L611.00,65.29 L612.50,63.96 L614.00,62.68 L615.50,61.46 L617.00,60.29 L618.50,59.18 L620.00,58.13 L621.50,57.13 L623.00,56.20 L624.50,55.33 L626.00,54.53 L627.50,53.79 L629.00,53.12 L630.50,52.52 L632.00,51.99 L633.50,51.52 L635.00,51.11 L636.50,50.76 L638.00,50.47 L639.50,50.23 L641.00,50.04 L642.50,49.90 L644.00,49.80 L645.50,49.75 L647.00,49.73 L648.50,49.76 L650.00,49.82 L651.50,49.91 L653.00,50.03 L654.50,50.18 L656.00,50.35 L657.50,50.55 L659.00,50.76 L660.50,50.99 L662.00,51.23 L663.50,51.49 L665.00,51.75 L666.50,52.02 L668.00,52.29 L669.50,52.57 L671.00,52.84 L672.50,53.12 L674.00,53.40 L675.50,53.69 L677.00,53.97 L678.50,54.26 L680.00,54.56 L681.50,54.85 L683.00,55.16 L684.50,55.46 L686.00,55.77 L687.50,56.09 L689.00,56.41 L690.50,56.74 L692.00,57.07 L693.50,57.41 L695.00,57.75 L696.50,58.10 L698.00,58.46 L699.50,58.83 L701.00,59.20 L702.50,59.58 L704.00,59.97 L705.50,60.36 L707.00,60.77 L708.50,61.18 L710.00,61.60 L711.50,62.03 L713.00,62.47 L714.50,62.92 L716.00,63.38 L717.50,63.85 L719.00,64.33 L720.50,64.82 L722.00,65.32 L722.40,65.45" fill="none" stroke="#1f7ed0" stroke-width="2.0" clip-path="url(#cr)"/>
<ellipse cx="498.8" cy="86.5" rx="10.2" ry="9.9" fill="none" stroke="#c0161e" stroke-width="2.2"/>
<ellipse cx="595.9" cy="86.2" rx="10.2" ry="9.9" fill="none" stroke="#c0161e" stroke-width="2.2"/>
<ellipse cx="469.9" cy="207.3" rx="8.4" ry="9.1" fill="none" stroke="#22aa44" stroke-width="2.4"/>
<ellipse cx="600.8" cy="179.6" rx="8.3" ry="8.6" fill="none" stroke="#22aa44" stroke-width="2.4"/>
<rect x="428.0" y="30.5" width="294.5" height="188.0" fill="none" stroke="#7a7a7a" stroke-width="1.1"/>
<path d="M428.00,218.5v-3M428.00,30.5v3M470.07,218.5v-3M470.07,30.5v3M512.14,218.5v-3M512.14,30.5v3M554.21,218.5v-3M554.21,30.5v3M596.28,218.5v-3M596.28,30.5v3M638.35,218.5v-3M638.35,30.5v3M680.42,218.5v-3M680.42,30.5v3M722.49,218.5v-3M722.49,30.5v3M428.0,218.50h3M722.5,218.50h-3M428.0,191.64h3M722.5,191.64h-3M428.0,164.78h3M722.5,164.78h-3M428.0,137.92h3M722.5,137.92h-3M428.0,111.06h3M722.5,111.06h-3M428.0,84.20h3M722.5,84.20h-3M428.0,57.34h3M722.5,57.34h-3M428.0,30.48h3M722.5,30.48h-3" stroke="#7a7a7a" stroke-width="1" fill="none"/>
<g font-family="Liberation Sans" font-size="8.6" fill="#4a4a4a"><text x="426.80" y="231.8" text-anchor="middle">0</text><text x="468.87" y="231.8" text-anchor="middle">50</text><text x="510.94" y="231.8" text-anchor="middle">100</text><text x="553.01" y="231.8" text-anchor="middle">150</text><text x="595.08" y="231.8" text-anchor="middle">200</text><text x="637.15" y="231.8" text-anchor="middle">250</text><text x="679.22" y="231.8" text-anchor="middle">300</text><text x="721.29" y="231.8" text-anchor="middle">350</text><text x="423.8" y="222.00" text-anchor="end">−10</text><text x="423.8" y="195.14" text-anchor="end">−8</text><text x="423.8" y="168.28" text-anchor="end">−6</text><text x="423.8" y="141.42" text-anchor="end">−4</text><text x="423.8" y="114.56" text-anchor="end">−2</text><text x="423.8" y="87.70" text-anchor="end">0</text><text x="423.8" y="60.84" text-anchor="end">2</text><text x="423.8" y="33.98" text-anchor="end">4</text></g>
<text x="387.3" y="18.7" font-family="Liberation Serif" font-weight="bold" font-size="17.5" fill="#000" textLength="16.4" lengthAdjust="spacing">b)</text>
<text x="550" y="246.2" font-family="Liberation Sans" font-size="10" fill="#4a4a4a"><tspan font-family="Liberation Serif" font-style="italic">ϕ</tspan> (degrees)</text>
<text transform="translate(399.5,173.5) rotate(-90)" font-family="Liberation Serif" font-size="13.5" fill="#1a1a1a" textLength="93.5" lengthAdjust="spacingAndGlyphs"><tspan font-style="italic">S</tspan><tspan font-size="9.5" font-style="italic" dy="2.2">G′</tspan><tspan dy="-2.2">, </tspan><tspan font-style="italic">S</tspan><tspan font-size="9.5" font-style="italic" dy="2.2">G′′</tspan><tspan dy="-2.2">(Hz/Pa)</tspan></text>
<text x="516.2" y="97.6" font-family="Liberation Sans" font-size="9.2" stroke="#222" stroke-width="0.12" fill="#222" textLength="63" lengthAdjust="spacingAndGlyphs">Zero Sensitivity</text>
<text x="554.9" y="204.6" font-family="Liberation Sans" font-size="9.2" stroke="#222" stroke-width="0.12" fill="#222" textLength="85.8" lengthAdjust="spacingAndGlyphs">Maximum Sensitivity</text>
<rect x="680" y="28" width="86" height="23" fill="#fff" stroke="#1f74c8" stroke-width="1.6"/>
<text x="688.6" y="37.5" font-family="Liberation Serif" font-size="8.2" fill="#2a2a2a" textLength="68.2" lengthAdjust="spacingAndGlyphs">Linearization around</text>
<text x="686" y="45.3" font-family="Liberation Serif" font-size="8.2" fill="#2a2a2a" textLength="73" lengthAdjust="spacingAndGlyphs"><tspan font-style="italic">G′</tspan> = 30 Pa, G′′ = 450 Pa</text>
<rect x="681.5" y="141.2" width="87.5" height="22.8" fill="#fff" stroke="#e0702a" stroke-width="1.8"/>
<text x="690.8" y="150.5" font-family="Liberation Serif" font-size="8.2" fill="#2a2a2a" textLength="68" lengthAdjust="spacingAndGlyphs">Linearization around</text>
<text x="686.9" y="159.6" font-family="Liberation Serif" font-size="8.2" fill="#2a2a2a" textLength="76.4" lengthAdjust="spacingAndGlyphs"><tspan font-style="italic">G′</tspan> = 200 Pa, G′′ = 600 Pa</text>
<line x1="658.2" y1="187.5" x2="686" y2="187.5" stroke="#1f7ed0" stroke-width="2.2"/>
<line x1="658.2" y1="199.3" x2="686" y2="199.3" stroke="#e0611e" stroke-width="2.2"/>
<text x="693" y="187.8" font-family="Liberation Serif" font-style="italic" font-size="13.5" fill="#222">S<tspan font-size="9" dy="2.6">G</tspan><tspan font-size="9" dy="-1">ı</tspan></text>
<text x="693" y="202.2" font-family="Liberation Serif" font-style="italic" font-size="13.5" fill="#222">S<tspan font-size="9" dy="2.6">G</tspan><tspan font-size="9" dy="-1">ıı</tspan></text>
</svg>
</body></html>
